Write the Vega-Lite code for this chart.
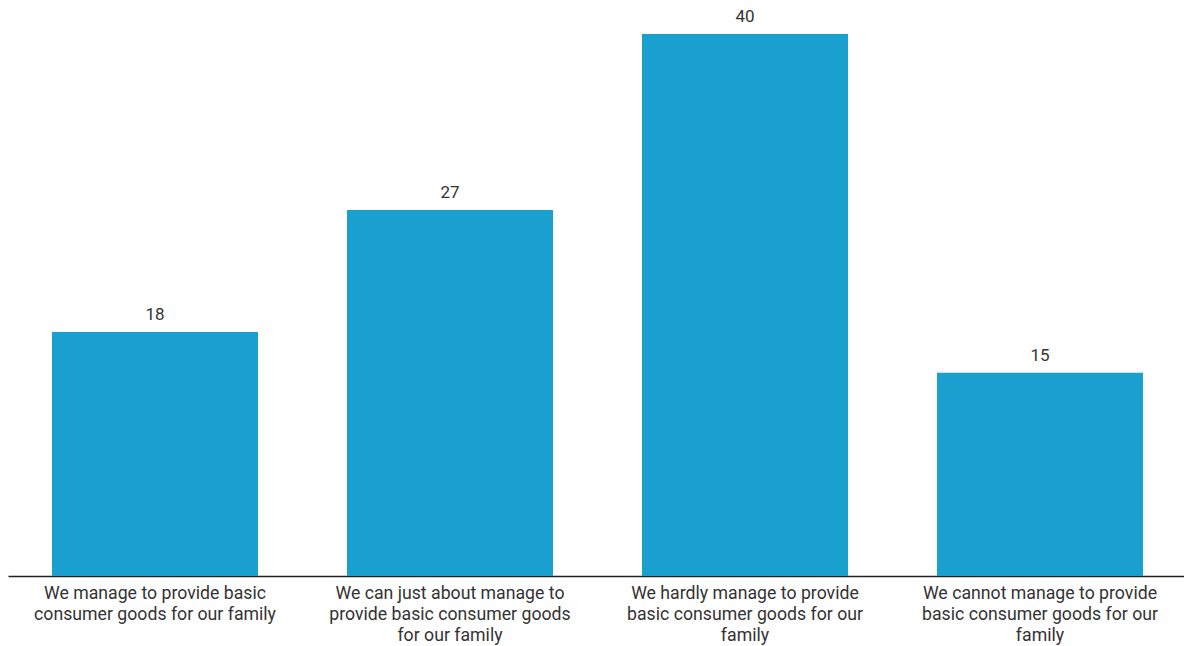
{
  "$schema": "https://vega.github.io/schema/vega-lite/v6.json",
  "autosize": {"type": "none"},
  "padding": {"left": 8, "top": 0, "right": 0, "bottom": 70},
  "width": 1179,
  "height": 576,
  "background": "white",
  "config": {"view": {"stroke": null}, "font": "Roboto"},
  "data": {"values": [
    {"category": "We manage to provide basic|consumer goods for our family", "value": 18},
    {"category": "We can just about manage to|provide basic consumer goods|for our family", "value": 27},
    {"category": "We hardly manage to provide|basic consumer goods for our|family", "value": 40},
    {"category": "We cannot manage to provide|basic consumer goods for our|family", "value": 15}
  ]},
  "encoding": {
    "x": {"field": "category", "type": "nominal", "sort": null,
      "scale": {"paddingInner": 0.3017, "paddingOuter": 0.1492},
      "axis": {"title": null, "labelAngle": 0, "labelExpr": "split(datum.label, '|')",
        "labelFontSize": 17.7, "labelLineHeight": 21, "labelColor": "#333333", "labelFont": "Roboto",
        "labelPadding": 8, "ticks": false, "domainColor": "#222222", "domainWidth": 1.5, "labelLimit": 0}},
    "y": {"field": "value", "type": "quantitative", "scale": {"domain": [0, 42.5], "nice": false}, "axis": null}
  },
  "layer": [
    {"mark": {"type": "bar", "color": "#19a0ce"}},
    {"mark": {"type": "text", "baseline": "alphabetic", "dy": -12, "fontSize": 17, "color": "#333333", "font": "Roboto"},
     "encoding": {"text": {"field": "value", "type": "quantitative"}}}
  ]
}
